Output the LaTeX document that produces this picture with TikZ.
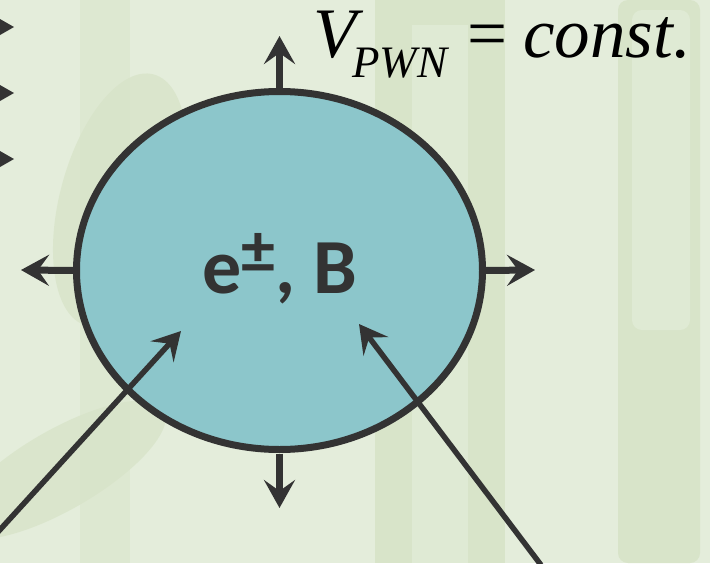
\documentclass[tikz,border=0pt]{standalone}
\usepackage{fontspec}
\setmainfont{Liberation Serif}
\newfontfamily\calfont{Carlito}
\usetikzlibrary{arrows.meta,shapes.geometric}
\definecolor{bgc}{HTML}{E4EDDB}
\definecolor{bamboo}{HTML}{D8E4C9}
\definecolor{bamboolt}{HTML}{DFEAD4}
\definecolor{dark}{HTML}{333333}
\definecolor{tealfill}{HTML}{8CC6CB}
\tikzset{
  headtip/.style={-{Stealth[length=28pt,width=31pt,inset=11pt]}},
  outarrow/.style={draw=dark,line width=7pt,line join=round,headtip},
  inarrow/.style={draw=dark,line width=5.5pt,line join=round,headtip},
  bubble/.style={ellipse,draw=dark,fill=tealfill,line width=7pt,inner sep=0pt,outer sep=0pt,minimum width=406pt,minimum height=358pt},
}
\begin{document}
\begin{tikzpicture}[x=1pt,y=-1pt]
\useasboundingbox (0,0) rectangle (710,563);
\fill[bgc] (0,0) rectangle (710,563);
% faint bamboo background
\fill[bamboo] (375,0) rectangle (505,563);
\fill[bamboolt] (412,25) rectangle (468,563);
\fill[bamboo, rounded corners=10pt] (618,0) rectangle (700,563);
\fill[bamboolt, rounded corners=10pt] (632,10) rectangle (690,330);
\fill[bamboo, opacity=0.8, rotate around={30:(60,470)}] (60,470) ellipse (120pt and 40pt);
\fill[bamboo, opacity=0.8, rotate around={-15:(120,200)}] (120,200) ellipse (60pt and 130pt);
\fill[bamboo, opacity=0.5] (80,0) rectangle (130,563);
% left edge arrow tips
\fill[dark] (0,19) -- (14,27) -- (0,35) -- cycle;
\fill[dark] (0,85) -- (14,93) -- (0,101) -- cycle;
\fill[dark] (0,151) -- (14,159) -- (0,167) -- cycle;
% bubble
\node[bubble] (pwn) at (279.5,270.5) {};
\node[text=dark, font=\calfont\bfseries\fontsize{78}{80}\selectfont, anchor=base, inner sep=0pt] (lbl) at (280,293)
  {e\raisebox{20pt}{\fontsize{68}{70}\selectfont ±}, B};
% outward arrows
\coordinate (tN) at (279.5,36);
\coordinate (tW) at (21,270);
\coordinate (tE) at (535,270);
\coordinate (tS) at (279.5,508);
\draw[outarrow] (pwn.north) -- (tN);
\draw[outarrow] (pwn.west) -- (tW);
\draw[outarrow] (pwn.east) -- (tE);
\draw[outarrow] ([yshift=-4pt]pwn.south) -- (tS);
% inward arrows
\coordinate (sL) at (-3,533);
\coordinate (hL) at (181,331);
\coordinate (sR) at (541,565);
\coordinate (hR) at (359,324);
\draw[inarrow] (sL) -- (hL);
\draw[inarrow] (sR) -- (hR);
% equation
\node[anchor=base west, inner sep=0pt, font=\fontsize{71}{73}\selectfont\itshape] (V) at (313,57) {V};
\node[anchor=base west, inner sep=0pt, font=\fontsize{45}{47}\selectfont\itshape] (sub) at (352,77) {PWN};
\node[anchor=base west, inner sep=0pt, font=\fontsize{71}{73}\selectfont] (eq) at (467,57) {=};
\node[anchor=base west, inner sep=0pt, font=\fontsize{71}{73}\selectfont\itshape] (c) at (523,57) {const.};
\end{tikzpicture}
\end{document}
